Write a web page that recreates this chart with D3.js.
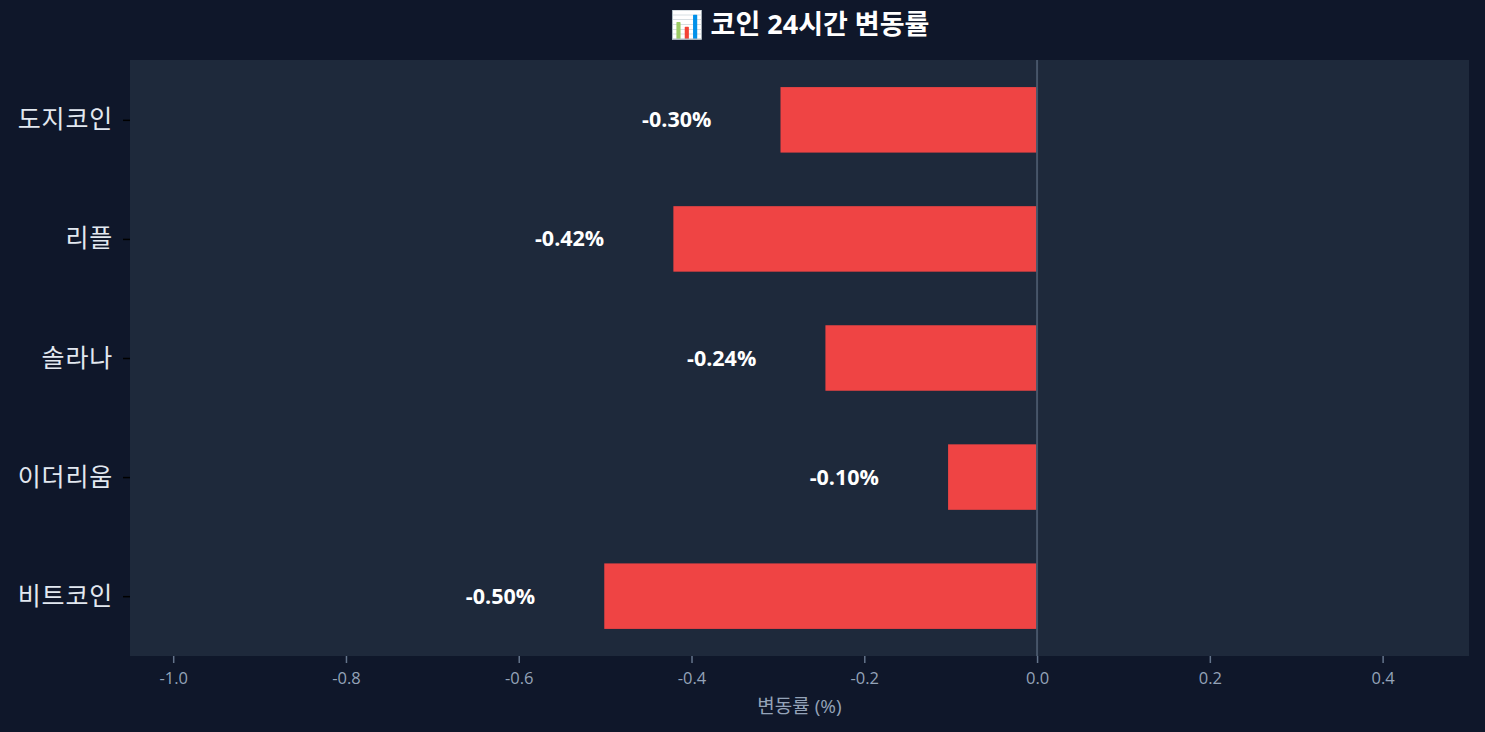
<!DOCTYPE html>
<html><head><meta charset="utf-8">
<script src="https://cdn.jsdelivr.net/npm/d3@7"></script>
<style>
html,body{margin:0;padding:0;background:#0f172a;}
svg{display:block;font-family:"Open Sans","Noto Sans CJK KR",sans-serif;}
</style></head><body>
<svg id="c" width="1485" height="732"></svg>
<script>
const categories = ["비트코인","이더리움","솔라나","리플","도지코인"];
const changes = [-0.501, -0.103, -0.245, -0.421, -0.297];
const xTicks = [-1.0,-0.8,-0.6,-0.4,-0.2,0.0,0.2,0.4];
const title = "📊 코인 24시간 변동률";
const xLabel = "변동률 (%)";

const W=1485,H=732;
const m={left:130,right:16,top:60,bottom:76};
const svg=d3.select("#c");
svg.append("rect").attr("width",W).attr("height",H).attr("fill","#0f172a");
const pw=W-m.left-m.right, ph=H-m.top-m.bottom;
const g=svg.append("g").attr("transform",`translate(${m.left},${m.top})`);
g.append("rect").attr("width",pw).attr("height",ph).attr("fill","#1e293b");

const x=d3.scaleLinear().domain([-1.05,0.5]).range([0,pw]);
const barH=0.55;
const pad=barH/2+0.05*(categories.length-1+barH);
const y=d3.scaleLinear().domain([-pad,categories.length-1+pad]).range([ph,0]);
const data=categories.map((c,i)=>({c,v:changes[i],i}));

g.selectAll("rect.bar").data(data).enter().append("rect").attr("class","bar")
  .attr("x",d=>x(Math.min(0,d.v))).attr("width",d=>Math.abs(x(d.v)-x(0)))
  .attr("y",d=>y(d.i+barH/2)).attr("height",d=>y(d.i-barH/2)-y(d.i+barH/2))
  .attr("fill","#ef4444");

g.append("line").attr("x1",x(0)).attr("x2",x(0)).attr("y1",0).attr("y2",ph)
  .attr("stroke","#475569").attr("stroke-width",2);

g.selectAll("text.val").data(data).enter().append("text").attr("class","val")
  .attr("x",d=>x(d.v-0.08)).attr("y",d=>y(d.i)).attr("dy","0.35em")
  .attr("text-anchor","end").attr("fill","#ffffff").attr("font-weight","bold")
  .attr("font-size","21.5px").text(d=>d.v.toFixed(2)+"%");

const fmt=d=>d3.format(".1f")(d).replace("−","-");
const xa=g.append("g").attr("transform",`translate(0,${ph})`)
  .call(d3.axisBottom(x).tickValues(xTicks).tickFormat(fmt).tickSizeOuter(0).tickSize(7).tickPadding(9));
xa.select(".domain").remove();
xa.selectAll("line").attr("stroke","#64748b").attr("stroke-width",1.5);
xa.selectAll("text").attr("fill","#94a3b8").attr("font-size","16.5px").attr("font-family","Open Sans");

const ya=g.append("g")
  .call(d3.axisLeft(y).tickValues(d3.range(categories.length)).tickFormat(i=>categories[i]).tickSizeOuter(0).tickSize(7).tickPadding(10));
ya.select(".domain").remove();
ya.selectAll("line").attr("stroke","#000000").attr("stroke-width",1.5);
ya.selectAll("text").attr("fill","#e2e8f0").attr("font-size","25px").attr("letter-spacing","0.8px").attr("font-family","Noto Sans CJK KR");

svg.append("text").attr("x",m.left+pw/2).attr("y",706).attr("dy","0.35em")
  .attr("text-anchor","middle").attr("fill","#94a3b8").attr("font-size","19px").text(xLabel);

svg.append("text").attr("x",m.left+pw/2).attr("y",25).attr("dy","0.35em")
  .attr("text-anchor","middle").attr("fill","#ffffff").attr("font-weight","bold")
  .attr("font-size","27px").text(title);
</script></body></html>
